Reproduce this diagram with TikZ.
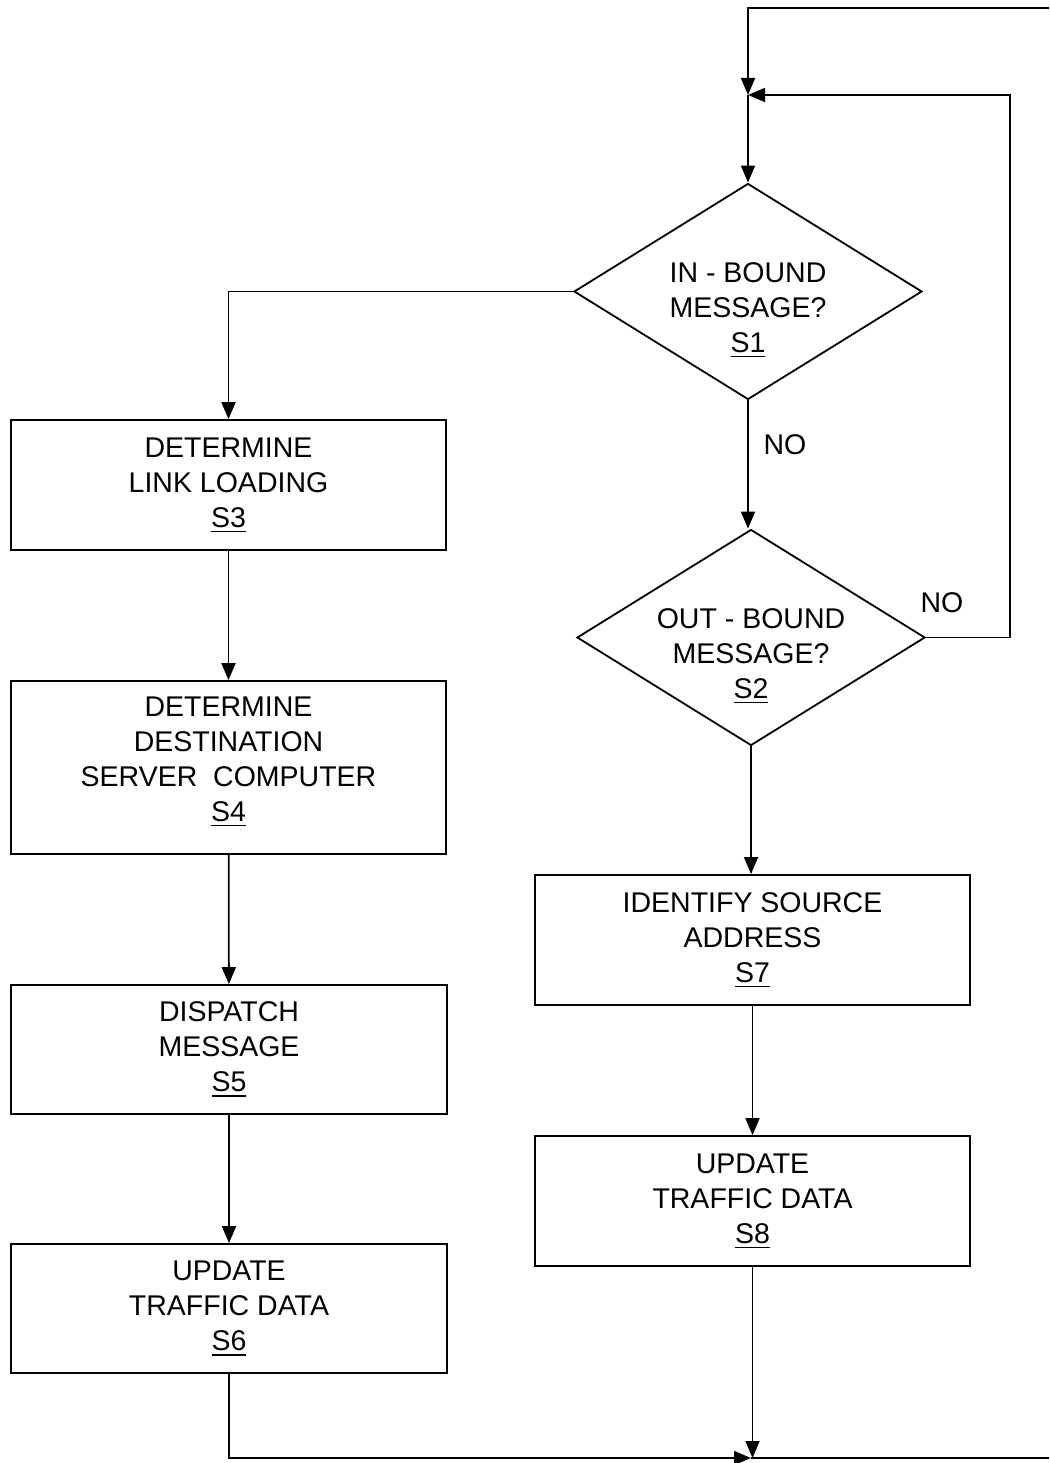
\documentclass[tikz,border=0pt]{standalone}
\usepackage{fontspec}
\setmainfont{Liberation Sans}
\usetikzlibrary{arrows.meta,shapes.geometric}
\newcommand\stepno[1]{\setbox0\hbox{#1}\rlap{\rule[-5bp]{\wd0}{1.5bp}}\box0}
\begin{document}
\begin{tikzpicture}[x=1bp,y=-1bp,
  line width=1.8bp,
  lbl/.style={font=\fontsize{28.5bp}{35bp}\selectfont, align=center, inner sep=0},
  proc/.style={lbl, draw, minimum width=435bp, minimum height=130bp},
  dia/.style={draw, shape=diamond, inner sep=0, minimum width=348bp, minimum height=216bp},
  arr/.style={-{Triangle[length=17bp,width=14bp]}}]
\useasboundingbox (0,0) rectangle (1049,1463);
% decisions
\node[dia] (s1) at (748,291.5) {};
\node[lbl] (s1t) at (748,310) {IN - BOUND\\MESSAGE?\\\stepno{S1}};
\node[dia] (s2) at (751,637.5) {};
\node[lbl] (s2t) at (751,656) {OUT - BOUND\\MESSAGE?\\\stepno{S2}};
% processes
\node[proc] (s3) at (228.5,485) {DETERMINE\\LINK LOADING\\\stepno{S3}};
\node[proc, minimum height=173bp, text depth=17bp] (s4) at (228.5,767.5) {DETERMINE\\DESTINATION\\SERVER\ \ COMPUTER\\\stepno{S4}};
\node[proc, minimum width=436bp, minimum height=129bp] (s5) at (229,1049.5) {DISPATCH\\MESSAGE\\\stepno{S5}};
\node[proc, minimum width=436bp, minimum height=129bp] (s6) at (229,1308.5) {UPDATE\\TRAFFIC DATA\\\stepno{S6}};
\node[proc] (s7) at (752.5,940) {IDENTIFY SOURCE\\ADDRESS\\\stepno{S7}};
\node[proc] (s8) at (752.5,1201) {UPDATE\\TRAFFIC DATA\\\stepno{S8}};
% labels
\node[lbl] (no1) at (785,445) {NO};
\node[lbl] (no2) at (942,603) {NO};
% junctions
\coordinate (tr) at (1049,8);
\coordinate (j) at (748,95);
\coordinate (rr) at (1010,637.5);
\coordinate (jb) at (751,1458);
\coordinate (br) at (1049,1458);
% connectors
\draw[arr] (tr) -| (j);
\draw[arr] (s2.east) -- (rr) |- (j);
\draw[arr] (j) -- (s1.north);
\draw[arr] (s1.west) -| (s3.north);
\draw[arr] (s1.south) -- (s1.south |- s2.north);
\draw[arr] (s2.south) -- (s2.south |- s7.north);
\draw[arr] (s3) -- (s4);
\draw[arr] (s4) -- (s5);
\draw[arr] (s5) -- (s6);
\draw[arr] (s7) -- (s8);
\draw[arr] (s6.south) |- (jb);
\draw[arr] (s8.south) -- (s8.south |- jb);
\draw (jb) -- (br);
\end{tikzpicture}
\end{document}
